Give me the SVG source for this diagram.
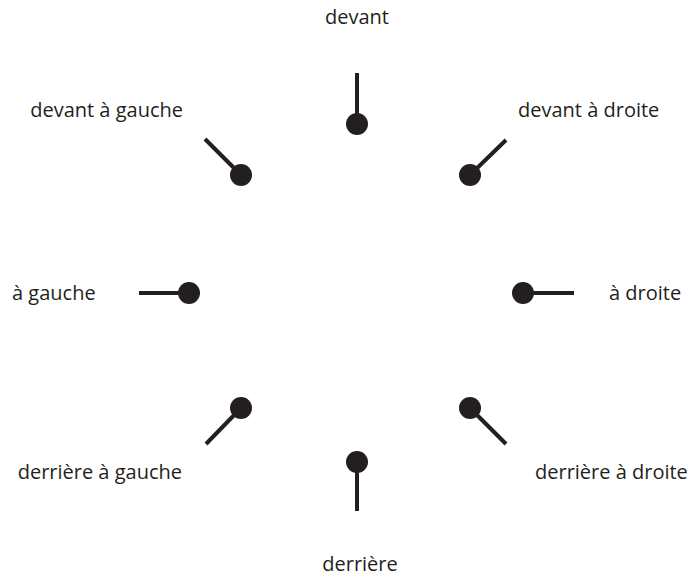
<svg xmlns="http://www.w3.org/2000/svg" width="689" height="578" viewBox="0 0 689 578">
<style>
.t{font-family:"Open Sans","Liberation Sans",sans-serif;font-size:20px;fill:#231f20}
.l{stroke:#231f20;stroke-width:4;stroke-linecap:butt;fill:none}
.d{fill:#231f20}
</style>
<rect width="689" height="578" fill="#fff"/>
<g id="connectors">
<line class="l" x1="357" y1="73" x2="357" y2="124"/>
<line class="l" x1="205" y1="139" x2="241" y2="175"/>
<line class="l" x1="506" y1="140" x2="470" y2="175"/>
<line class="l" x1="139" y1="293" x2="189" y2="293"/>
<line class="l" x1="574" y1="293" x2="523" y2="293"/>
<line class="l" x1="206" y1="444" x2="241" y2="408"/>
<line class="l" x1="506" y1="444" x2="470" y2="408"/>
<line class="l" x1="357" y1="462" x2="357" y2="511"/>
</g>
<g id="n-devant"><circle class="d" cx="357" cy="124" r="11"/><text class="t" x="357" y="24" text-anchor="middle">devant</text></g>
<g id="n-devant-gauche"><circle class="d" cx="241" cy="175" r="11"/><text class="t" x="183" y="117" text-anchor="end">devant à gauche</text></g>
<g id="n-devant-droite"><circle class="d" cx="470" cy="175" r="11"/><text class="t" x="518" y="117">devant à droite</text></g>
<g id="n-gauche"><circle class="d" cx="189" cy="293" r="11"/><text class="t" x="12" y="300">à gauche</text></g>
<g id="n-droite"><circle class="d" cx="523" cy="293" r="11"/><text class="t" x="609" y="300">à droite</text></g>
<g id="n-derriere-gauche"><circle class="d" cx="241" cy="408" r="11"/><text class="t" x="182" y="479" text-anchor="end">derrière à gauche</text></g>
<g id="n-derriere-droite"><circle class="d" cx="470" cy="408" r="11"/><text class="t" x="535" y="479">derrière à droite</text></g>
<g id="n-derriere"><circle class="d" cx="357" cy="462" r="11"/><text class="t" x="360" y="571" text-anchor="middle">derrière</text></g>
</svg>
